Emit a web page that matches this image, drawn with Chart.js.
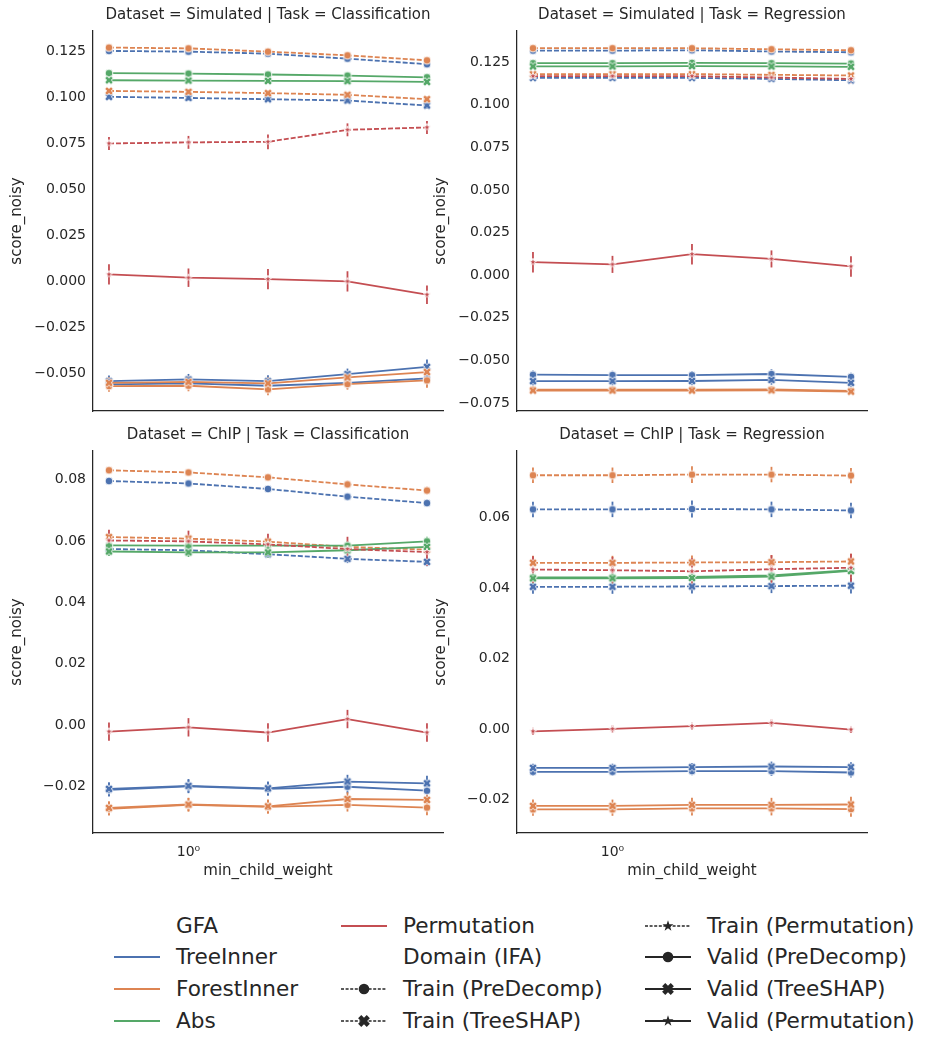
<!DOCTYPE html>
<html>
<head>
<meta charset="utf-8">
<script src="https://cdn.jsdelivr.net/npm/chart.js@4"></script>
<style>
  html, body { margin: 0; padding: 0; background: #fff; }
  #wrap { position: relative; width: 934px; height: 1051px; overflow: hidden; background: #fff; }
  #wrap canvas.panel { position: absolute; }
  .entry { position: absolute; height: 24px; line-height: 24px; font-family: "DejaVu Sans", sans-serif; font-size: 21.6px; color: #262626; white-space: nowrap; }
  .entry canvas { position: absolute; top: 2px; }
</style>
</head>
<body>
<div id="wrap">
  <canvas class="panel" id="simCls" width="460" height="431" style="left:0px;top:0px"></canvas>
  <canvas class="panel" id="simReg" width="460" height="431" style="left:424px;top:0px"></canvas>
  <canvas class="panel" id="chipCls" width="460" height="470" style="left:0px;top:420px"></canvas>
  <canvas class="panel" id="chipReg" width="460" height="470" style="left:424px;top:420px"></canvas>
  <div id="legend"></div>
</div>
<script>
const xValues = [0.5, 1, 2, 4, 8];

// Dataset = Simulated | Task = Classification
const simClsTicks = [-0.05, -0.025, 0, 0.025, 0.05, 0.075, 0.1, 0.125];
const simClsTreeTrainPre = [0.1250, 0.1246, 0.1235, 0.1208, 0.1178];
const simClsTreeTrainShap = [0.1001, 0.0995, 0.0988, 0.0981, 0.0954];
const simClsTreeValidPre = [-0.0559, -0.0553, -0.0566, -0.0550, -0.0526];
const simClsTreeValidShap = [-0.0541, -0.0532, -0.0541, -0.0503, -0.0464];
const simClsForestTrainPre = [0.1268, 0.1264, 0.1246, 0.1226, 0.1199];
const simClsForestTrainShap = [0.1033, 0.1028, 0.1021, 0.1012, 0.0988];
const simClsForestValidPre = [-0.0568, -0.0566, -0.0586, -0.0557, -0.0537];
const simClsForestValidShap = [-0.0550, -0.0545, -0.0553, -0.0521, -0.0492];
const simClsAbsValidPre = [0.1129, 0.1127, 0.1122, 0.1116, 0.1107];
const simClsAbsValidShap = [0.1091, 0.1089, 0.1087, 0.1086, 0.1082];
const simClsPermTrain = [0.0748, 0.0754, 0.0757, 0.0822, 0.0835];
const simClsPermValid = [0.0038, 0.0020, 0.0012, 0.0000, -0.0072];
const simClsErrTop = [0.001, 0.001, 0.001, 0.001, 0.0012];
const simClsErrMid = [0.0015, 0.0015, 0.0015, 0.0015, 0.0018];
const simClsErrLow = [0.003, 0.003, 0.0032, 0.003, 0.004];
const simClsErrPermTrain = [0.0035, 0.0035, 0.004, 0.0035, 0.0035];
const simClsErrPermValid = [0.0055, 0.005, 0.0055, 0.0055, 0.005];

// Dataset = Simulated | Task = Regression
const simRegTicks = [-0.075, -0.05, -0.025, 0, 0.025, 0.05, 0.075, 0.1, 0.125];
const simRegTreeTrainPre = [0.1317, 0.1317, 0.1319, 0.1312, 0.1307];
const simRegTreeTrainShap = [0.1157, 0.1157, 0.1157, 0.1151, 0.1143];
const simRegTreeValidPre = [-0.0584, -0.0586, -0.0587, -0.0580, -0.0597];
const simRegTreeValidShap = [-0.0622, -0.0622, -0.0621, -0.0615, -0.0632];
const simRegForestTrainPre = [0.1331, 0.1331, 0.1331, 0.1325, 0.1319];
const simRegForestTrainShap = [0.1179, 0.1179, 0.1179, 0.1175, 0.1171];
const simRegForestValidPre = [-0.0672, -0.0672, -0.0672, -0.0671, -0.0679];
const simRegForestValidShap = [-0.0677, -0.0677, -0.0677, -0.0676, -0.0683];
const simRegAbsValidPre = [0.1243, 0.1243, 0.1245, 0.1243, 0.1241];
const simRegAbsValidShap = [0.1224, 0.1224, 0.1226, 0.1224, 0.1222];
const simRegPermTrain = [0.1167, 0.1167, 0.1167, 0.1159, 0.1151];
const simRegPermValid = [0.0076, 0.0063, 0.0123, 0.0095, 0.0051];
const simRegErrTop = [0.0008, 0.0008, 0.0008, 0.0008, 0.001];
const simRegErrMid = [0.001, 0.001, 0.001, 0.001, 0.0012];
const simRegErrTreeLow = [0.0025, 0.0025, 0.0025, 0.0028, 0.0025];
const simRegErrForestLow = [0.0015, 0.0015, 0.0015, 0.0015, 0.0018];
const simRegErrPermTrain = [0.002, 0.002, 0.002, 0.002, 0.0025];
const simRegErrPermValid = [0.006, 0.005, 0.006, 0.005, 0.006];

// Dataset = ChIP | Task = Classification
const chipClsTicks = [-0.02, 0, 0.02, 0.04, 0.06, 0.08];
const chipClsTreeTrainPre = [0.0796, 0.0788, 0.0770, 0.0745, 0.0724];
const chipClsTreeTrainShap = [0.0574, 0.0570, 0.0557, 0.0542, 0.0532];
const chipClsTreeValidPre = [-0.0212, -0.0201, -0.0209, -0.0202, -0.0215];
const chipClsTreeValidShap = [-0.0209, -0.0199, -0.0207, -0.0185, -0.0191];
const chipClsForestTrainPre = [0.0831, 0.0824, 0.0808, 0.0785, 0.0765];
const chipClsForestTrainShap = [0.0613, 0.0608, 0.0598, 0.0581, 0.0572];
const chipClsForestValidPre = [-0.0274, -0.0261, -0.0268, -0.0261, -0.0270];
const chipClsForestValidShap = [-0.0271, -0.0260, -0.0266, -0.0242, -0.0245];
const chipClsAbsValidPre = [0.0586, 0.0585, 0.0585, 0.0585, 0.0599];
const chipClsAbsValidShap = [0.0566, 0.0563, 0.0563, 0.0570, 0.0581];
const chipClsPermTrain = [0.0602, 0.0599, 0.0589, 0.0574, 0.0564];
const chipClsPermValid = [-0.0022, -0.0008, -0.0025, 0.0019, -0.0025];
const chipClsErrTop = [0.001, 0.001, 0.001, 0.0012, 0.0012];
const chipClsErrMid = [0.0012, 0.0012, 0.0012, 0.0014, 0.0014];
const chipClsErrAbs = [0.0015, 0.0015, 0.0018, 0.0015, 0.0015];
const chipClsErrLow = [0.0022, 0.0022, 0.0022, 0.0022, 0.0025];
const chipClsErrPermTrain = [0.0035, 0.0035, 0.0035, 0.004, 0.0045];
const chipClsErrPermValid = [0.003, 0.003, 0.003, 0.003, 0.003];

// Dataset = ChIP | Task = Regression
const chipRegTicks = [-0.02, 0, 0.02, 0.04, 0.06];
const chipRegTreeTrainPre = [0.0624, 0.0624, 0.0625, 0.0624, 0.0621];
const chipRegTreeTrainShap = [0.0404, 0.0404, 0.0405, 0.0406, 0.0407];
const chipRegTreeValidPre = [-0.0122, -0.0122, -0.0120, -0.0120, -0.0124];
const chipRegTreeValidShap = [-0.0111, -0.0111, -0.0109, -0.0107, -0.0109];
const chipRegForestTrainPre = [0.0721, 0.0721, 0.0723, 0.0723, 0.0720];
const chipRegForestTrainShap = [0.0472, 0.0472, 0.0473, 0.0474, 0.0476];
const chipRegForestValidPre = [-0.0229, -0.0229, -0.0226, -0.0226, -0.0228];
const chipRegForestValidShap = [-0.0219, -0.0219, -0.0216, -0.0216, -0.0215];
const chipRegAbsValidPre = [0.0431, 0.0431, 0.0432, 0.0436, 0.0451];
const chipRegAbsValidShap = [0.0428, 0.0428, 0.0429, 0.0433, 0.0449];
const chipRegPermTrain = [0.0453, 0.0451, 0.0448, 0.0454, 0.0458];
const chipRegPermValid = [-0.0007, 0.0000, 0.0008, 0.0017, -0.0002];
const chipRegErrTop = [0.0022, 0.0022, 0.0024, 0.0022, 0.0022];
const chipRegErrMid = [0.002, 0.002, 0.002, 0.002, 0.0022];
const chipRegErrAbs = [0.0015, 0.0015, 0.0015, 0.0015, 0.0015];
const chipRegErrTreeLow = [0.0012, 0.0012, 0.0012, 0.0014, 0.0014];
const chipRegErrForestLow = [0.0018, 0.0018, 0.002, 0.002, 0.0022];
const chipRegErrPermTrain = [0.0038, 0.0038, 0.0038, 0.004, 0.004];
const chipRegErrPermValid = [0.001, 0.001, 0.001, 0.001, 0.001];

const gfaColors = {
    TreeInner: "#4c72b0",
    ForestInner: "#dd8452",
    Abs: "#55a868",
    Permutation: "#c44e52",
};
const textColor = "#262626";
const fontFamily = "'DejaVu Sans', sans-serif";

Chart.defaults.font.family = fontFamily;
Chart.defaults.color = textColor;

// draws one seaborn-like marker (circle / filled X / star)
function drawMarker(ctx, ifa, cx, cy, r, fill, edge, edgeWidth) {
    ctx.beginPath();
    if (ifa === "PreDecomp") {
        ctx.arc(cx, cy, r, 0, Math.PI * 2);
    } else if (ifa === "TreeSHAP") {
        const a = r * 1.15, w = r * 0.42;
        const pts = [[-w, -a], [w, -a], [w, -w], [a, -w], [a, w], [w, w], [w, a], [-w, a], [-w, w], [-a, w], [-a, -w], [-w, -w]];
        const c = Math.cos(Math.PI / 4), s = Math.sin(Math.PI / 4);
        pts.forEach(([px, py], k) => {
            const x = cx + px * c - py * s;
            const y = cy + px * s + py * c;
            if (k === 0) ctx.moveTo(x, y); else ctx.lineTo(x, y);
        });
        ctx.closePath();
    } else {
        for (let k = 0; k < 10; k++) {
            const rad = k % 2 === 0 ? r * 1.25 : r * 0.5;
            const ang = -Math.PI / 2 + (k * Math.PI) / 5;
            const x = cx + rad * Math.cos(ang);
            const y = cy + rad * Math.sin(ang);
            if (k === 0) ctx.moveTo(x, y); else ctx.lineTo(x, y);
        }
        ctx.closePath();
    }
    ctx.fillStyle = fill;
    ctx.fill();
    if (edgeWidth > 0) {
        ctx.strokeStyle = edge;
        ctx.lineWidth = edgeWidth;
        ctx.stroke();
    }
}

const markerCache = {};
function markerImage(ifa, color) {
    const key = ifa + color;
    if (markerCache[key]) return markerCache[key];
    const c = document.createElement("canvas");
    c.width = 14;
    c.height = 14;
    const r = ifa === "Permutation" ? 3.2 : 3.9;
    drawMarker(c.getContext("2d"), ifa, 7, 7, r, color, "#ffffff", 0.9);
    markerCache[key] = c;
    return c;
}

const errorBars = {
    id: "errorBars",
    beforeDatasetsDraw(chart) {
        const ctx = chart.ctx;
        const yScale = chart.scales.y;
        chart.data.datasets.forEach((ds, i) => {
            const meta = chart.getDatasetMeta(i);
            ctx.save();
            ctx.strokeStyle = ds.borderColor;
            ctx.lineWidth = 1.8;
            meta.data.forEach((pt, j) => {
                const v = ds.data[j].y;
                const e = ds.errors[j];
                ctx.beginPath();
                ctx.moveTo(pt.x, yScale.getPixelForValue(v - e));
                ctx.lineTo(pt.x, yScale.getPixelForValue(v + e));
                ctx.stroke();
            });
            ctx.restore();
        });
    },
};

function formatTick(v, decimals) {
    const s = Math.abs(v).toFixed(decimals);
    return v < -1e-9 ? "\u2212" + s : s;
}

function makePanel(id, title, rows, yMin, yMax, ticks, decimals, bottomRow) {
    const datasets = rows.map(([gfa, domain, ifa, values, errs], i) => ({
        label: gfa + " / " + domain + " (" + ifa + ")",
        data: values.map((v, j) => ({ x: xValues[j], y: v })),
        errors: errs,
        borderColor: gfaColors[gfa],
        backgroundColor: gfaColors[gfa],
        borderWidth: 1.8,
        borderDash: domain === "Train" ? [5, 2] : [],
        pointStyle: markerImage(ifa, gfaColors[gfa]),
        pointRadius: 4,
        tension: 0,
        fill: false,
        order: rows.length - i,
    }));

    new Chart(document.getElementById(id), {
        type: "line",
        data: { datasets: datasets },
        plugins: [errorBars],
        options: {
            responsive: false,
            animation: false,
            layout: { padding: { left: 0, right: 17, top: 0, bottom: bottomRow ? 9 : 0 } },
            plugins: {
                legend: { display: false },
                tooltip: { enabled: false },
                title: {
                    display: true,
                    fullSize: false, // keeps the facet title centred over the plot area
                    text: title,
                    color: textColor,
                    font: { size: 15, weight: "normal" },
                    padding: { top: 6.5, bottom: 6.5 },
                },
            },
            scales: {
                x: {
                    type: "logarithmic",
                    min: 0.435,
                    max: 9.2,
                    grid: { display: false, drawTicks: false },
                    border: { display: true, color: textColor, width: 1.25 },
                    afterBuildTicks: (axis) => {
                        axis.ticks = [{ value: 1 }];
                    },
                    afterFit: (axis) => {
                        axis.height = bottomRow ? 48 : 20;
                    },
                    ticks: {
                        display: bottomRow,
                        autoSkip: false,
                        maxRotation: 0,
                        padding: 11,
                        color: textColor,
                        font: { size: 14 },
                        callback: (v) => (v === 1 ? "10\u2070" : ""),
                    },
                    title: {
                        display: bottomRow,
                        text: "min_child_weight",
                        color: textColor,
                        font: { size: 15 },
                        padding: { top: 0, bottom: 0.5 },
                    },
                },
                y: {
                    min: yMin,
                    max: yMax,
                    grid: { display: false, drawTicks: false },
                    border: { display: true, color: textColor, width: 1.25 },
                    afterBuildTicks: (axis) => {
                        axis.ticks = ticks.map((v) => ({ value: v }));
                    },
                    afterFit: (axis) => {
                        axis.width = 93;
                    },
                    ticks: {
                        padding: 7,
                        color: textColor,
                        font: { size: 14 },
                        callback: (v) => formatTick(v, decimals),
                    },
                    title: {
                        display: true,
                        text: "score_noisy",
                        color: textColor,
                        font: { size: 15 },
                        padding: { top: 8, bottom: 0 },
                    },
                },
            },
        },
    });
}

makePanel("simCls", "Dataset = Simulated | Task = Classification", [
    ["TreeInner", "Train", "PreDecomp", simClsTreeTrainPre, simClsErrTop],
    ["TreeInner", "Train", "TreeSHAP", simClsTreeTrainShap, simClsErrMid],
    ["TreeInner", "Valid", "PreDecomp", simClsTreeValidPre, simClsErrLow],
    ["TreeInner", "Valid", "TreeSHAP", simClsTreeValidShap, simClsErrLow],
    ["ForestInner", "Train", "PreDecomp", simClsForestTrainPre, simClsErrTop],
    ["ForestInner", "Train", "TreeSHAP", simClsForestTrainShap, simClsErrMid],
    ["ForestInner", "Valid", "PreDecomp", simClsForestValidPre, simClsErrLow],
    ["ForestInner", "Valid", "TreeSHAP", simClsForestValidShap, simClsErrLow],
    ["Abs", "Valid", "PreDecomp", simClsAbsValidPre, simClsErrTop],
    ["Abs", "Valid", "TreeSHAP", simClsAbsValidShap, simClsErrTop],
    ["Permutation", "Train", "Permutation", simClsPermTrain, simClsErrPermTrain],
    ["Permutation", "Valid", "Permutation", simClsPermValid, simClsErrPermValid],
], -0.0703, 0.1358, simClsTicks, 3, false);

makePanel("simReg", "Dataset = Simulated | Task = Regression", [
    ["TreeInner", "Train", "PreDecomp", simRegTreeTrainPre, simRegErrTop],
    ["TreeInner", "Train", "TreeSHAP", simRegTreeTrainShap, simRegErrMid],
    ["TreeInner", "Valid", "PreDecomp", simRegTreeValidPre, simRegErrTreeLow],
    ["TreeInner", "Valid", "TreeSHAP", simRegTreeValidShap, simRegErrTreeLow],
    ["ForestInner", "Train", "PreDecomp", simRegForestTrainPre, simRegErrTop],
    ["ForestInner", "Train", "TreeSHAP", simRegForestTrainShap, simRegErrMid],
    ["ForestInner", "Valid", "PreDecomp", simRegForestValidPre, simRegErrForestLow],
    ["ForestInner", "Valid", "TreeSHAP", simRegForestValidShap, simRegErrForestLow],
    ["Abs", "Valid", "PreDecomp", simRegAbsValidPre, simRegErrTop],
    ["Abs", "Valid", "TreeSHAP", simRegAbsValidShap, simRegErrTop],
    ["Permutation", "Train", "Permutation", simRegPermTrain, simRegErrPermTrain],
    ["Permutation", "Valid", "Permutation", simRegPermValid, simRegErrPermValid],
], -0.0797, 0.1432, simRegTicks, 3, false);

makePanel("chipCls", "Dataset = ChIP | Task = Classification", [
    ["TreeInner", "Train", "PreDecomp", chipClsTreeTrainPre, chipClsErrTop],
    ["TreeInner", "Train", "TreeSHAP", chipClsTreeTrainShap, chipClsErrMid],
    ["TreeInner", "Valid", "PreDecomp", chipClsTreeValidPre, chipClsErrLow],
    ["TreeInner", "Valid", "TreeSHAP", chipClsTreeValidShap, chipClsErrLow],
    ["ForestInner", "Train", "PreDecomp", chipClsForestTrainPre, chipClsErrTop],
    ["ForestInner", "Train", "TreeSHAP", chipClsForestTrainShap, chipClsErrMid],
    ["ForestInner", "Valid", "PreDecomp", chipClsForestValidPre, chipClsErrLow],
    ["ForestInner", "Valid", "TreeSHAP", chipClsForestValidShap, chipClsErrLow],
    ["Abs", "Valid", "PreDecomp", chipClsAbsValidPre, chipClsErrAbs],
    ["Abs", "Valid", "TreeSHAP", chipClsAbsValidShap, chipClsErrAbs],
    ["Permutation", "Train", "Permutation", chipClsPermTrain, chipClsErrPermTrain],
    ["Permutation", "Valid", "Permutation", chipClsPermValid, chipClsErrPermValid],
], -0.0353, 0.0894, chipClsTicks, 2, true);

makePanel("chipReg", "Dataset = ChIP | Task = Regression", [
    ["TreeInner", "Train", "PreDecomp", chipRegTreeTrainPre, chipRegErrTop],
    ["TreeInner", "Train", "TreeSHAP", chipRegTreeTrainShap, chipRegErrMid],
    ["TreeInner", "Valid", "PreDecomp", chipRegTreeValidPre, chipRegErrTreeLow],
    ["TreeInner", "Valid", "TreeSHAP", chipRegTreeValidShap, chipRegErrTreeLow],
    ["ForestInner", "Train", "PreDecomp", chipRegForestTrainPre, chipRegErrTop],
    ["ForestInner", "Train", "TreeSHAP", chipRegForestTrainShap, chipRegErrMid],
    ["ForestInner", "Valid", "PreDecomp", chipRegForestValidPre, chipRegErrForestLow],
    ["ForestInner", "Valid", "TreeSHAP", chipRegForestValidShap, chipRegErrForestLow],
    ["Abs", "Valid", "PreDecomp", chipRegAbsValidPre, chipRegErrAbs],
    ["Abs", "Valid", "TreeSHAP", chipRegAbsValidShap, chipRegErrAbs],
    ["Permutation", "Train", "Permutation", chipRegPermTrain, chipRegErrPermTrain],
    ["Permutation", "Valid", "Permutation", chipRegPermValid, chipRegErrPermValid],
], -0.0296, 0.079, chipRegTicks, 2, true);

// legend below the grid, three columns like seaborn's
const legendEntries = [
    { text: "GFA" },
    { text: "TreeInner", color: gfaColors.TreeInner },
    { text: "ForestInner", color: gfaColors.ForestInner },
    { text: "Abs", color: gfaColors.Abs },
    { text: "Permutation", color: gfaColors.Permutation },
    { text: "Domain (IFA)" },
    { text: "Train (PreDecomp)", domain: "Train", ifa: "PreDecomp" },
    { text: "Train (TreeSHAP)", domain: "Train", ifa: "TreeSHAP" },
    { text: "Train (Permutation)", domain: "Train", ifa: "Permutation" },
    { text: "Valid (PreDecomp)", domain: "Valid", ifa: "PreDecomp" },
    { text: "Valid (TreeSHAP)", domain: "Valid", ifa: "TreeSHAP" },
    { text: "Valid (Permutation)", domain: "Valid", ifa: "Permutation" },
];
const colHandleX = [114, 341, 645];
const colTextX = [176, 403, 707];
const rowY = [926, 957, 989, 1021];

const legend = document.getElementById("legend");
legendEntries.forEach((entry, k) => {
    const col = Math.floor(k / 4);
    const row = k % 4;
    const div = document.createElement("div");
    div.className = "entry";
    div.style.left = colHandleX[col] + "px";
    div.style.top = rowY[row] - 12 + "px";
    div.style.width = "280px";
    const span = document.createElement("span");
    span.textContent = entry.text;
    span.style.position = "absolute";
    span.style.left = colTextX[col] - colHandleX[col] + "px";
    div.appendChild(span);
    if (entry.color || entry.domain) {
        const c = document.createElement("canvas");
        c.width = 46;
        c.height = 20;
        c.style.left = "0px";
        const ctx = c.getContext("2d");
        ctx.beginPath();
        ctx.moveTo(0, 10);
        ctx.lineTo(46, 10);
        if (entry.color) {
            ctx.strokeStyle = entry.color;
            ctx.lineWidth = 2;
            ctx.stroke();
        } else {
            ctx.strokeStyle = textColor;
            if (entry.domain === "Train") {
                ctx.setLineDash([3, 1.6]);
                ctx.lineWidth = 1.3;
            } else {
                ctx.lineWidth = 2.2;
            }
            ctx.stroke();
            ctx.setLineDash([]);
            drawMarker(ctx, entry.ifa, 23, 10, entry.ifa === "Permutation" ? 4.6 : 5.3, textColor, textColor, 0);
        }
        div.appendChild(c);
    }
    legend.appendChild(div);
});
</script>
</body>
</html>
